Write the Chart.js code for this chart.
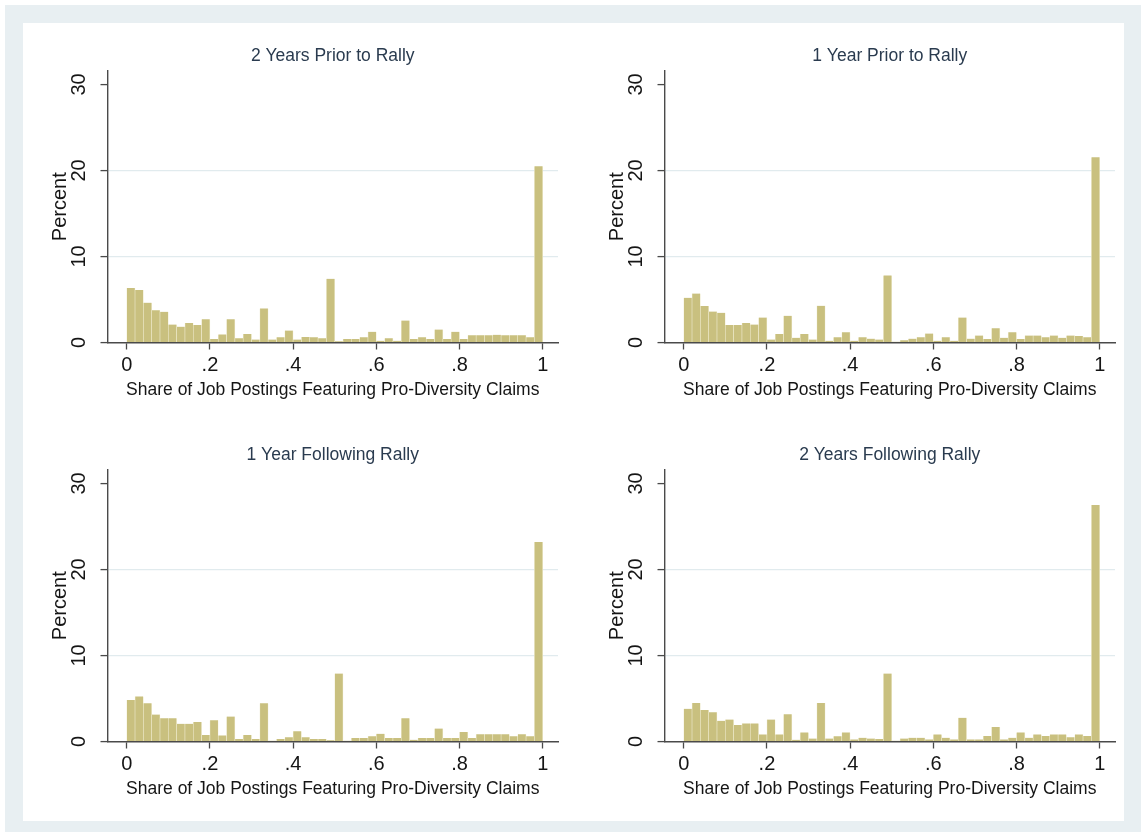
<!DOCTYPE html>
<html>
<head>
<meta charset="utf-8">
<title>Pro-Diversity Claims around Rallies</title>
<script src="https://cdn.jsdelivr.net/npm/chart.js@4/dist/chart.umd.min.js"></script>
<style>
  html, body { margin: 0; padding: 0; background: #ffffff; }
  #page { position: relative; width: 1146px; height: 837px; overflow: hidden; background: #ffffff; }
  #band { position: absolute; left: 5px; top: 5px; width: 1136px; height: 827px; background: #e8eff2; }
  #inner { position: absolute; left: 23px; top: 23px; width: 1101px; height: 798px; background: #ffffff; }
  .panel { position: absolute; width: 573px; height: 418px; }
  .panel canvas { display: block; }
</style>
</head>
<body>
<div id="page">
  <div id="band"></div>
  <div id="inner"></div>
  <div class="panel" style="left:0px;top:0px"><canvas id="c0" width="573" height="418"></canvas></div>
  <div class="panel" style="left:557px;top:0px"><canvas id="c1" width="573" height="418"></canvas></div>
  <div class="panel" style="left:0px;top:399px"><canvas id="c2" width="573" height="418"></canvas></div>
  <div class="panel" style="left:557px;top:399px"><canvas id="c3" width="573" height="418"></canvas></div>
</div>
<script>
// Histogram bins: 50 bins of width .02 on [0, 1]
const binCount = 50;
const binWidth = 0.02;
const binLower = Array.from({ length: binCount }, (_, i) => i * binWidth);

// Percent of firms in each bin
const prior2Years = [
  6.35, 6.1, 4.63, 3.76, 3.57, 2.08, 1.84, 2.27, 2.04, 2.7,
  0.4, 0.94, 2.7, 0.5, 0.98, 0.35, 3.96, 0.35, 0.6, 1.4,
  0.35, 0.63, 0.6, 0.5, 7.4, 0.15, 0.4, 0.4, 0.6, 1.25,
  0.2, 0.5, 0.2, 2.55, 0.4, 0.6, 0.4, 1.5, 0.4, 1.25,
  0.4, 0.85, 0.85, 0.85, 0.9, 0.85, 0.85, 0.85, 0.6, 20.5
];
const prior1Year = [
  5.2, 5.7, 4.24, 3.6, 3.45, 2.04, 2.04, 2.27, 2.08, 2.9,
  0.35, 0.98, 3.1, 0.55, 1.0, 0.35, 4.27, 0.2, 0.6, 1.2,
  0.2, 0.6, 0.45, 0.35, 7.8, 0.1, 0.25, 0.45, 0.6, 1.05,
  0.2, 0.6, 0.2, 2.9, 0.45, 0.8, 0.4, 1.65, 0.55, 1.2,
  0.4, 0.8, 0.8, 0.6, 0.8, 0.55, 0.8, 0.75, 0.6, 21.55
];
const following1Year = [
  4.84, 5.24, 4.44, 3.13, 2.7, 2.7, 2.06, 2.06, 2.26, 0.75,
  2.46, 0.71, 2.9, 0.3, 0.75, 0.3, 4.44, 0.1, 0.3, 0.5,
  1.2, 0.5, 0.3, 0.3, 0.15, 7.9, 0.1, 0.4, 0.4, 0.6,
  0.9, 0.4, 0.4, 2.7, 0.2, 0.4, 0.4, 1.5, 0.4, 0.4,
  1.1, 0.4, 0.85, 0.85, 0.85, 0.85, 0.6, 0.85, 0.6, 23.2
];
const following2Years = [
  3.8, 4.47, 3.65, 3.41, 2.4, 2.55, 1.92, 2.1, 2.1, 0.82,
  2.55, 0.82, 3.18, 0.2, 1.06, 0.35, 4.47, 0.35, 0.6, 1.06,
  0.24, 0.43, 0.35, 0.3, 7.9, 0.1, 0.35, 0.43, 0.43, 0.24,
  0.82, 0.43, 0.24, 2.75, 0.24, 0.24, 0.63, 1.69, 0.24, 0.43,
  1.06, 0.43, 0.82, 0.63, 0.82, 0.82, 0.5, 0.82, 0.63, 27.5
];

const panelTitles = [
  '2 Years Prior to Rally',
  '1 Year Prior to Rally',
  '1 Year Following Rally',
  '2 Years Following Rally'
];
const panelSeries = [prior2Years, prior1Year, following1Year, following2Years];

const xTickValues = [0, 0.2, 0.4, 0.6, 0.8, 1];
const xTickLabels = ['0', '.2', '.4', '.6', '.8', '1'];
const yTickValues = [0, 10, 20, 30];
const yTickLabels = ['0', '10', '20', '30'];
const gridValues = [10, 20];

const xAxisTitle = 'Share of Job Postings Featuring Pro-Diversity Claims';
const yAxisTitle = 'Percent';

const FONT = '"Liberation Sans", Arial, Helvetica, sans-serif';
const AXIS_COLOR = '#4a4a4a';
const TEXT_COLOR = '#151515';
const TITLE_COLOR = '#2a3b4f';
const BAR_FILL = '#c9c07f';
const BAR_EDGE = 'rgba(238,234,204,0.85)';
const GRID_COLOR = '#e1ebee';

function makeChart(canvasId, title, values) {
  const points = binLower.map((lo, i) => ({ x: lo + binWidth / 2, y: values[i] }));
  return new Chart(document.getElementById(canvasId), {
    type: 'bar',
    data: {
      datasets: [{
        data: points,
        backgroundColor: BAR_FILL,
        borderColor: BAR_EDGE,
        borderWidth: { left: 0.6, right: 0.6, top: 0, bottom: 0 },
        borderSkipped: false,
        categoryPercentage: 1,
        barPercentage: 1
      }]
    },
    options: {
      responsive: false,
      animation: false,
      events: [],
      layout: { padding: { left: 40, right: 15, top: 30, bottom: 17.5 } },
      plugins: {
        legend: { display: false },
        tooltip: { enabled: false },
        title: {
          display: true,
          text: title,
          fullSize: false,
          color: TITLE_COLOR,
          font: { family: FONT, size: 17.5, weight: 'normal', lineHeight: 1.2 },
          padding: { top: 15.5, bottom: 4.5 }
        }
      },
      scales: {
        x: {
          type: 'linear',
          min: -0.0462,
          max: 1.0368,
          offset: false,
          afterBuildTicks: s => { s.ticks = xTickValues.map(v => ({ value: v })); },
          afterFit: s => { s.height = 58; },
          ticks: {
            autoSkip: false,
            maxRotation: 0,
            minRotation: 0,
            padding: 3.5,
            color: TEXT_COLOR,
            font: { family: FONT, size: 20 },
            callback: (v, i) => xTickLabels[i]
          },
          grid: {
            offset: false,
            drawOnChartArea: false,
            drawTicks: true,
            tickLength: 7,
            tickColor: AXIS_COLOR,
            tickWidth: 1.3
          },
          border: { display: true, color: AXIS_COLOR, width: 1.4 },
          title: {
            display: true,
            text: xAxisTitle,
            color: TEXT_COLOR,
            font: { family: FONT, size: 17.5, lineHeight: 1.2 },
            padding: { top: 0, bottom: 0 }
          }
        },
        y: {
          type: 'linear',
          min: 0,
          max: 31.57,
          afterBuildTicks: s => { s.ticks = yTickValues.map(v => ({ value: v })); },
          afterFit: s => { s.width = 67.5; },
          ticks: {
            minRotation: 90,
            maxRotation: 90,
            crossAlign: 'center',
            padding: 9.4,
            color: TEXT_COLOR,
            font: { family: FONT, size: 20 },
            callback: (v, i) => yTickLabels[i]
          },
          grid: {
            drawOnChartArea: true,
            drawTicks: true,
            tickLength: 7,
            tickColor: AXIS_COLOR,
            tickWidth: 1.3,
            lineWidth: 1.2,
            color: ctx => (ctx.tick && gridValues.includes(ctx.tick.value)) ? GRID_COLOR : 'rgba(0,0,0,0)'
          },
          border: { display: true, color: AXIS_COLOR, width: 1.4 },
          title: {
            display: true,
            text: yAxisTitle,
            color: TEXT_COLOR,
            font: { family: FONT, size: 20, lineHeight: 1.2 },
            padding: { top: 8, bottom: 0 }
          }
        }
      }
    }
  });
}

panelSeries.forEach((series, i) => makeChart('c' + i, panelTitles[i], series));
</script>
</body>
</html>
